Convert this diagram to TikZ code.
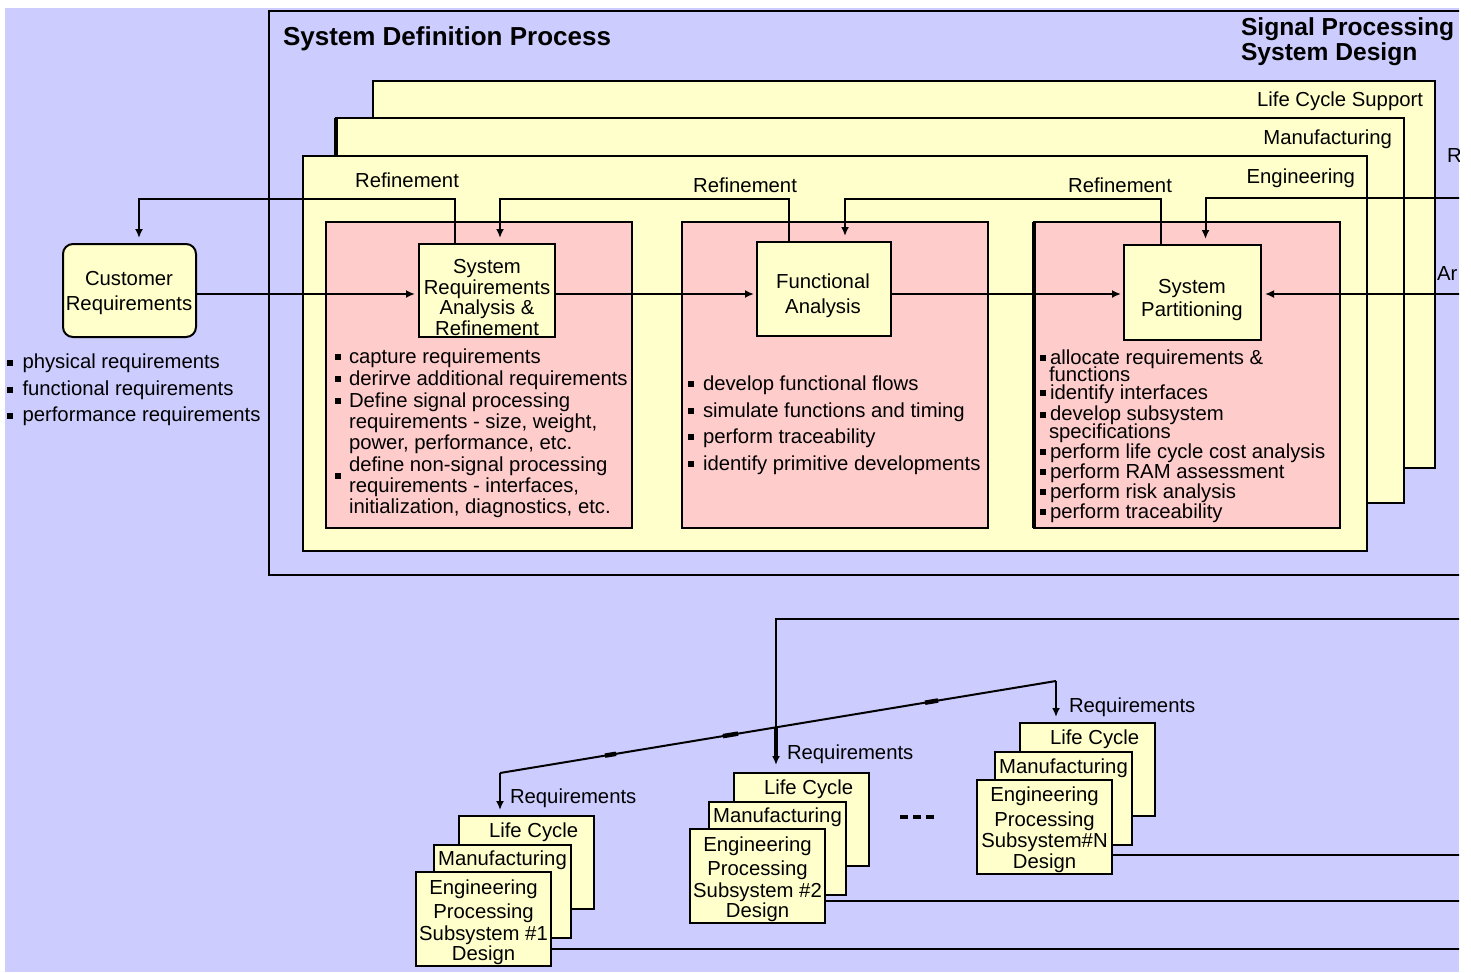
\documentclass[tikz,border=0pt]{standalone}
\usepackage{fontspec}
\setmainfont{Liberation Sans}
\usetikzlibrary{arrows.meta}
\definecolor{bglav}{HTML}{CCCCFF}
\definecolor{paper}{HTML}{FFFFCC}
\definecolor{rosy}{HTML}{FFCCCC}
% small square bullet centred on a point
\newcommand\sqdot[1]{\fill (#1) ++(-3,-3) rectangle ++(6,6);}
\begin{document}
\begin{tikzpicture}[x=1pt, y=-1pt, line width=2pt,
  every node/.style={inner sep=0pt, outer sep=0pt},
  box/.style={draw=black, line width=2pt, anchor=north west},
  cream/.style={box, fill=paper},
  rosebox/.style={box, fill=rosy},
  lbl/.style={font=\fontsize{20.3}{24}\selectfont, anchor=base},
  lbll/.style={lbl, anchor=base west},
  lblr/.style={lbl, anchor=base east},
  head/.style={font=\bfseries\fontsize{26}{30}\selectfont},
  subhead/.style={font=\bfseries\fontsize{24.6}{30}\selectfont},
  arr/.style={-{Latex[length=9pt,width=8pt]}}]
\useasboundingbox (0,0) rectangle (1471,972);
\begin{scope}
\clip (5,8) rectangle (1459,972);
\fill[bglav] (5,8) rectangle (1459,972);

% outer process frame
\node[box, minimum width=1240pt, minimum height=564pt] (sdp) at (269,11) {};
\node[head, anchor=base west] (sdptitle) at (283,45) {System Definition Process};
\node[subhead, anchor=base west] (spsd1) at (1241,35) {Signal Processing};
\node[subhead, anchor=base west] (spsd2) at (1241,60) {System Design};

% stacked discipline sheets
\node[cream, minimum width=1062pt, minimum height=387pt] (lcs) at (373,81) {};
\node[cream, minimum width=1068pt, minimum height=385pt] (mfg) at (336,118) {};
\draw[line width=4pt] (mfg.north west) -- (mfg.south west);
\node[cream, minimum width=1064pt, minimum height=395pt] (eng) at (303,156) {};
\node[lblr] (lcst) at (1423,106) {Life Cycle Support};
\node[lblr] (mfgt) at (1392,144) {Manufacturing};
\node[lblr] (engt) at (1355,183) {Engineering};

% activity panels
\node[rosebox, minimum width=306pt, minimum height=306pt] (pink1) at (326,222) {};
\node[rosebox, minimum width=306pt, minimum height=306pt] (pink2) at (682,222) {};
\node[rosebox, minimum width=306pt, minimum height=306pt] (pink3) at (1034,222) {};
\draw[line width=4pt] (pink3.north west) -- (pink3.south west);

% activity boxes
\node[cream, minimum width=133pt, minimum height=93pt, rounded corners=10pt] (cust) at (63,244) {};
\node[cream, minimum width=136pt, minimum height=93pt] (sysreq) at (419,244) {};
\node[cream, minimum width=134pt, minimum height=94pt] (func) at (757,242) {};
\node[cream, minimum width=137pt, minimum height=95pt] (part) at (1124,245) {};

\node[lbl] (custa) at (129,285) {Customer};
\node[lbl] (custb) at (129,310) {Requirements};
\node[lbl] (sra) at (487,273) {System};
\node[lbl] (srb) at (487,294) {Requirements};
\node[lbl] (src) at (487,314.5) {Analysis \&};
\node[lbl] (srd) at (487,335) {Refinement};
\node[lbl] (fa) at (823,288) {Functional};
\node[lbl] (fb) at (823,313) {Analysis};
\node[lbl] (pa) at (1192,293) {System};
\node[lbl] (pb) at (1192,316) {Partitioning};

% customer requirement list
\sqdot{10,363} \sqdot{10,390} \sqdot{10,416}
\node[lbll] (cl1) at (22.5,368) {physical requirements};
\node[lbll] (cl2) at (22.5,395) {functional requirements};
\node[lbll] (cl3) at (22.5,421.5) {performance requirements};

% requirements analysis tasks
\sqdot{338,357} \sqdot{338,379} \sqdot{338,401} \sqdot{338,476}
\node[lbll] (p1a) at (349,363) {capture requirements};
\node[lbll] (p1b) at (349,385) {derirve additional requirements};
\node[lbll] (p1c) at (349,407) {Define signal processing};
\node[lbll] (p1d) at (349,428) {requirements - size, weight,};
\node[lbll] (p1e) at (349,449) {power, performance, etc.};
\node[lbll] (p1f) at (349,471) {define non-signal processing};
\node[lbll] (p1g) at (349,492) {requirements - interfaces,};
\node[lbll] (p1h) at (349,513) {initialization, diagnostics, etc.};

% functional analysis tasks
\sqdot{691,384} \sqdot{691,411} \sqdot{691,437} \sqdot{691,464}
\node[lbll] (p2a) at (703,390) {develop functional flows};
\node[lbll] (p2b) at (703,417) {simulate functions and timing};
\node[lbll] (p2c) at (703,443) {perform traceability};
\node[lbll] (p2d) at (703,470) {identify primitive developments};

% partitioning tasks
\sqdot{1043,358} \sqdot{1043,393} \sqdot{1043,414.5} \sqdot{1043,452}
\sqdot{1043,472} \sqdot{1043,492} \sqdot{1043,512}
\node[lbll] (p3a) at (1050,364) {allocate requirements \&};
\node[lbll] (p3b) at (1049,381.5) {functions};
\node[lbll] (p3c) at (1050,399) {identify interfaces};
\node[lbll] (p3d) at (1050,420.5) {develop subsystem};
\node[lbll] (p3e) at (1049,438) {specifications};
\node[lbll] (p3f) at (1050,458) {perform life cycle cost analysis};
\node[lbll] (p3g) at (1050,478) {perform RAM assessment};
\node[lbll] (p3h) at (1050,498) {perform risk analysis};
\node[lbll] (p3i) at (1050,518) {perform traceability};

% refinement feedback loops
\coordinate (rowR) at (0,199);
\coordinate (rowF) at (0,294);
\draw[arr, shorten >=6pt] ([xshift=-32pt]sysreq.north) -- ([xshift=-32pt]sysreq.north |- rowR) -| ([xshift=9.5pt]cust.north);
\draw[arr, shorten >=6pt] ([xshift=-35pt]func.north) -- ([xshift=-35pt]func.north |- rowR) -| ([xshift=13pt]sysreq.north);
\draw[arr, shorten >=6pt] ([xshift=-31.5pt]part.north) -- ([xshift=-31.5pt]part.north |- rowR) -| ([xshift=21pt]func.north);
\node[lbl] (ref1) at (407,187) {Refinement};
\node[lbl] (ref2) at (745,192) {Refinement};
\node[lbl] (ref3) at (1120,192) {Refinement};

% forward flow
\draw[arr, shorten >=4pt] (cust.east |- rowF) -- (sysreq.west |- rowF);
\draw[arr, shorten >=3pt] (sysreq.east |- rowF) -- (func.west |- rowF);
\draw[arr, shorten >=3pt] (func.east |- rowF) -- (part.west |- rowF);

% inputs entering from the right
\coordinate (inR) at (1470,198);
\coordinate (inA) at (1470,294);
\draw[arr, shorten >=6pt] (inR) -| ([xshift=13pt]part.north);
\draw[arr, shorten >=4pt] (inA) -- (inA -| part.east);
\node[lbll] (rcut) at (1447,162) {R};
\node[lbll] (acut) at (1437,280) {Ar};

% subsystem design stacks
\node[cream, minimum width=135pt, minimum height=93pt] (lc1) at (459,816) {};
\node[cream, minimum width=137pt, minimum height=93pt] (mf1) at (434,845) {};
\node[cream, minimum width=135pt, minimum height=94pt] (en1) at (416,872) {};
\node[cream, minimum width=135pt, minimum height=93pt] (lc2) at (734,773) {};
\node[cream, minimum width=137pt, minimum height=93pt] (mf2) at (709,802) {};
\node[cream, minimum width=135pt, minimum height=94pt] (en2) at (690,829) {};
\node[cream, minimum width=135pt, minimum height=93pt] (lcN) at (1020,723) {};
\node[cream, minimum width=137pt, minimum height=93pt] (mfN) at (995,752) {};
\node[cream, minimum width=135pt, minimum height=94pt] (enN) at (977,780) {};

\node[lbll] (lc1t) at ([xshift=30pt,yshift=-21pt]lc1.north west) {Life Cycle};
\node[lbl] (mf1t) at ([yshift=-20.5pt]mf1.north) {Manufacturing};
\node[lbl] (en1a) at ([yshift=-22.5pt]en1.north) {Engineering};
\node[lbl] (en1b) at ([yshift=-46.5pt]en1.north) {Processing};
\node[lbl] (en1c) at ([yshift=-68pt]en1.north) {Subsystem \#1};
\node[lbl] (en1d) at ([yshift=-88pt]en1.north) {Design};

\node[lbll] (lc2t) at ([xshift=30pt,yshift=-21pt]lc2.north west) {Life Cycle};
\node[lbl] (mf2t) at ([yshift=-20.5pt]mf2.north) {Manufacturing};
\node[lbl] (en2a) at ([yshift=-22.5pt]en2.north) {Engineering};
\node[lbl] (en2b) at ([yshift=-46.5pt]en2.north) {Processing};
\node[lbl] (en2c) at ([yshift=-68pt]en2.north) {Subsystem \#2};
\node[lbl] (en2d) at ([yshift=-88pt]en2.north) {Design};

\node[lbll] (lcNt) at ([xshift=30pt,yshift=-21pt]lcN.north west) {Life Cycle};
\node[lbl] (mfNt) at ([yshift=-21.5pt]mfN.north) {Manufacturing};
\node[lbl] (enNa) at ([yshift=-21.5pt]enN.north) {Engineering};
\node[lbl] (enNb) at ([yshift=-46pt]enN.north) {Processing};
\node[lbl] (enNc) at ([yshift=-67pt]enN.north) {Subsystem\#N};
\node[lbl] (enNd) at ([yshift=-88pt]enN.north) {Design};

\node (dots) at (917,817) {\rule{8pt}{4pt}\hspace{5pt}\rule{8pt}{4pt}\hspace{5pt}\rule{8pt}{4pt}};

% requirement distribution to the subsystems
\coordinate (feedR) at (1470,619);
\coordinate (junc) at (776,727);
\coordinate (dl) at (500,773);
\coordinate (dr) at (1056,681);
\draw (feedR) -| (junc);
\draw (dl) -- (dr);
\draw[line width=4.5pt] (605,755.6) -- (616,753.8);
\draw[line width=4.5pt] (723,736.1) -- (738,733.6);
\draw[line width=4.5pt] (925,702.7) -- (938,700.5);
\draw[arr, line width=4pt, shorten >=8pt] (junc) -- (junc |- lc2.north);
\draw[arr, shorten >=6pt] (dl) -- (dl |- lc1.north);
\draw[arr, shorten >=6pt] (dr) -- (dr |- lcN.north);
\node[lbll] (rq1) at (510,803) {Requirements};
\node[lbll] (rq2) at (787,759) {Requirements};
\node[lbll] (rqN) at (1069,712) {Requirements};

% subsystem outputs leaving to the right
\coordinate (out1) at (1470,949);
\coordinate (out2) at (1470,901);
\coordinate (outN) at (1470,855);
\draw (out1) -- (out1 -| en1.east);
\draw (out2) -- (out2 -| en2.east);
\draw (outN) -- (outN -| enN.east);
\end{scope}
\end{tikzpicture}
\end{document}
